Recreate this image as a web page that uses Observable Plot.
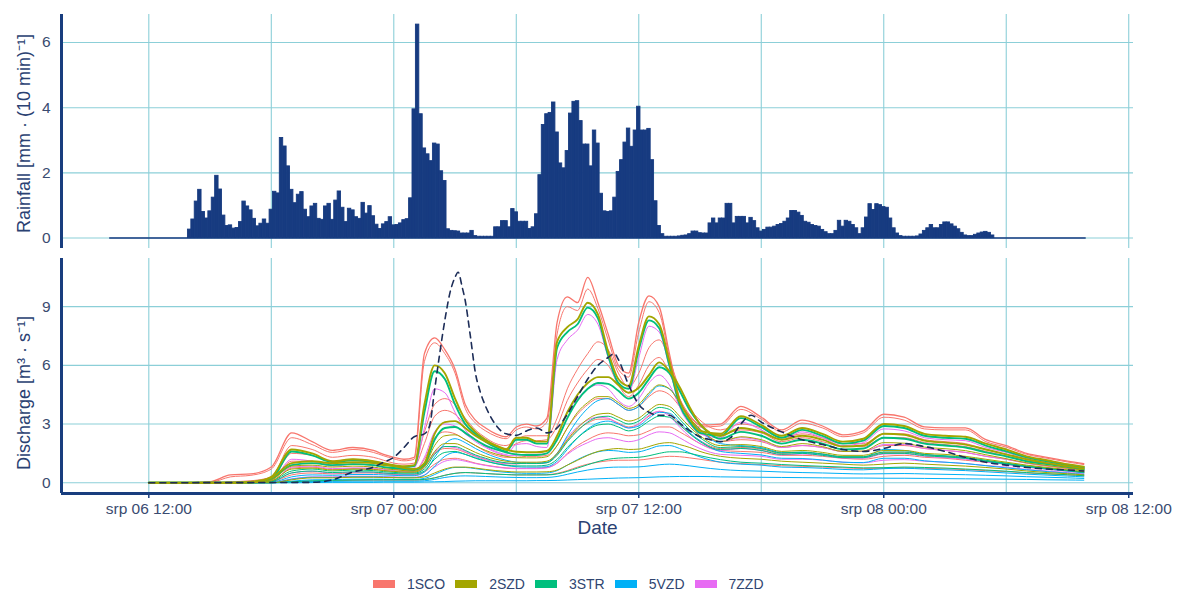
<!DOCTYPE html>
<html><head><meta charset="utf-8">
<script src="https://cdn.jsdelivr.net/npm/d3@7"></script>
<script src="https://cdn.jsdelivr.net/npm/@observablehq/plot@0.6"></script>
<style>
html,body{margin:0;padding:0;background:#fff;overflow:hidden;}
#chart svg{display:block;}
#legend{display:flex;align-items:center;padding-left:373px;padding-top:32px;height:14px;line-height:14px;font-family:"Liberation Sans",Arial,sans-serif;font-size:14px;color:#2f4570;}
.sw{width:22px;height:8px;margin-right:12px;}
.lb{margin-right:10px;}
</style></head><body>
<div id="chart"></div>
<div id="legend"></div>
<script>
// ---------- Rainfall: 10-min totals, first bar centred at srp 06 10:10 ----------
const rainfall = [
0,0,0,0,0,0,0,0,0,0, 0,0,0,0,0,0,0,0,0,0, 0,0,0,
0.26,0.57,1.12,1.48,0.8,0.6,0.82,
1.24,1.91,1.49,0.69,0.37,0.39,0.29,0.31,0.49,1.12,
0.97,0.85,0.59,0.36,0.44,0.57,0.44,0.87,1.42,1.37,
3.07,2.81,2.2,1.48,1.07,1.33,1.41,0.87,0.64,0.97,
1.05,0.59,0.56,0.97,1.05,0.56,1.15,1.43,0.93,0.49,
0.9,0.85,0.64,0.59,1.08,0.75,0.98,0.67,0.41,0.28,
0.42,0.49,0.64,0.39,0.4,0.45,0.55,0.58,1.22,3.95,
6.55,3.8,2.75,2.57,2.36,2.9,2.87,2.05,1.75,0.27,
0.22,0.21,0.2,0.14,0.14,0.14,0.22,0.06,0.04,0.04,
0.04,0.04,0.04,0.33,0.33,0.52,0.52,0.33,0.89,0.79,
0.5,0.5,0.5,0.28,0.33,0.73,1.93,3.47,3.8,3.84,
4.16,3.24,2.29,2.14,2.67,3.82,4.18,4.2,3.59,2.87,
2.87,2.2,3.3,2.9,1.36,0.82,0.8,0.82,1.24,2.03,
2.39,2.93,3.36,2.8,3.3,4.03,3.3,3.3,3.35,2.39,
1.13,0.37,0.12,0.04,0.04,0.04,0.04,0.05,0.07,0.08,
0.12,0.2,0.2,0.15,0.14,0.14,0.45,0.6,0.45,0.6,
0.6,1.05,1.05,0.45,0.65,0.65,0.65,0.45,0.62,0.52,
0.3,0.2,0.25,0.32,0.32,0.35,0.4,0.43,0.5,0.6,
0.83,0.83,0.78,0.68,0.5,0.47,0.4,0.37,0.35,0.25,
0.18,0.12,0.12,0.22,0.53,0.35,0.53,0.5,0.4,0.3,
0.12,0.3,0.63,1.04,0.86,1.04,1.01,0.95,0.93,0.6,
0.3,0.14,0.06,0.04,0.04,0.04,0.04,0.05,0.11,0.22,
0.3,0.4,0.3,0.3,0.4,0.48,0.48,0.42,0.35,0.27,
0.16,0.08,0.06,0.06,0.1,0.14,0.17,0.19,0.16,0.08,
0,0,0,0,0,0,0,0,0,0, 0,0,0,0,0,0,0,0,0,0, 0,0,0,0,0,0,0
];

// ---------- Discharge: hours after srp 06 12:00 ----------
const dischargeHours = [0,2,3,4,5,6,7,8,9,10,
 11,11.5,12,12.5,13,13.5,14,14.5,15,15.5,
 16,16.5,17,17.5,18,18.5,19,19.5,20,20.5,
 21,21.5,22,22.5,23,23.5,24,24.5,25,25.5,
 26,26.5,27,28,29,30,31,32,33,34,
 35,36,37,38,39,40,41,42,43,44,
 45,45.8];

const sco1 = [0,0,0.05,0.4,0.45,0.8,2.55,2.1,1.65,1.8,
 1.65,1.45,1.3,1.2,1.3,6.6,7.4,6.8,5.8,4.0,
 3.2,2.8,2.5,2.35,2.85,3.0,2.9,3.3,8.2,9.5,
 9.2,10.5,9.2,7.6,6.0,5.6,8.2,9.55,9.0,6.6,
 4.3,3.4,2.95,3.0,3.9,3.35,2.7,3.2,2.9,2.45,
 2.65,3.5,3.35,2.85,2.8,2.8,2.2,1.9,1.5,1.3,
 1.1,0.97];
const sco6 = [0,0,0.02,0.3,0.38,0.7,2.3,1.95,1.55,1.7,
 1.55,1.38,1.22,1.12,1.2,6.2,7.15,6.6,5.6,3.8,
 3.05,2.65,2.38,2.25,2.7,2.85,2.75,3.1,7.6,9.0,
 8.8,9.9,8.9,7.3,5.8,5.4,7.7,9.25,8.7,6.4,
 4.2,3.3,2.85,2.9,3.75,3.25,2.6,3.05,2.8,2.35,
 2.55,3.35,3.2,2.75,2.7,2.7,2.1,1.82,1.45,1.25,
 1.06,0.93];
const sco2 = [0,0,0,0.05,0.1,0.3,1.9,1.7,1.3,1.4,
 1.3,1.15,1.0,0.95,1.0,2.6,4.0,4.3,4.0,3.3,
 2.7,2.3,2.0,1.9,2.2,2.4,2.4,2.4,3.3,4.8,
 5.8,6.6,7.2,6.8,5.6,4.9,5.6,6.9,7.3,6.3,
 4.8,3.8,3.2,2.7,3.0,2.8,2.3,2.5,2.3,2.0,
 2.0,2.5,2.5,2.2,2.1,2.0,1.7,1.45,1.2,1.05,
 0.9,0.8];
const sco7 = [0,0,0,0,0.05,0.2,1.5,1.4,1.1,1.2,
 1.1,1.0,0.88,0.82,0.85,2.0,3.4,3.7,3.5,2.95,
 2.45,2.1,1.85,1.75,2.0,2.15,2.15,2.2,2.9,4.2,
 5.1,5.8,6.3,6.0,5.0,4.4,5.0,6.0,6.4,5.6,
 4.3,3.45,2.9,2.45,2.7,2.55,2.1,2.3,2.1,1.85,
 1.85,2.3,2.3,2.05,1.95,1.85,1.6,1.37,1.13,0.98,
 0.85,0.75];
const sco3 = [0,0,0,0,0.05,0.15,1.1,1.1,0.9,0.95,
 0.9,0.8,0.7,0.65,0.65,1.2,2.3,2.6,2.5,2.2,
 1.9,1.6,1.4,1.3,1.3,1.35,1.35,1.4,1.9,2.8,
 3.5,4.0,4.3,4.3,4.0,3.7,3.9,4.4,4.7,4.5,
 3.9,3.2,2.7,2.1,2.2,2.1,1.8,1.9,1.8,1.6,
 1.6,1.9,1.9,1.75,1.65,1.55,1.35,1.2,1.0,0.85,
 0.72,0.62];
const sco8 = [0,0,0,0,0,0.08,0.75,0.8,0.68,0.72,
 0.7,0.63,0.57,0.54,0.53,0.85,1.5,1.75,1.72,1.55,
 1.35,1.18,1.05,0.97,0.97,1.0,1.0,1.03,1.45,2.15,
 2.7,3.05,3.25,3.25,3.05,2.85,3.0,3.4,3.65,3.5,
 3.0,2.5,2.15,1.75,1.8,1.72,1.5,1.55,1.47,1.33,
 1.32,1.55,1.56,1.43,1.35,1.27,1.12,0.99,0.84,0.72,
 0.62,0.53];
const sco4 = [0,0,0,0,0,0.05,0.4,0.5,0.45,0.5,
 0.5,0.45,0.42,0.4,0.4,0.55,0.95,1.2,1.25,1.15,
 1.0,0.9,0.82,0.76,0.74,0.74,0.75,0.78,1.0,1.5,
 1.9,2.2,2.45,2.55,2.5,2.4,2.45,2.65,2.85,2.85,
 2.6,2.3,2.0,1.65,1.6,1.55,1.4,1.4,1.35,1.25,
 1.2,1.35,1.4,1.3,1.25,1.15,1.05,0.95,0.8,0.7,
 0.6,0.52];
const sco5 = [0,0,0,0,0,0,0.05,0.08,0.1,0.12,
 0.13,0.13,0.13,0.13,0.13,0.16,0.25,0.38,0.48,0.52,
 0.5,0.47,0.44,0.42,0.4,0.4,0.4,0.41,0.48,0.62,
 0.8,0.95,1.05,1.12,1.15,1.15,1.16,1.22,1.3,1.35,
 1.33,1.27,1.2,1.05,0.98,0.93,0.87,0.84,0.8,0.76,
 0.73,0.74,0.76,0.74,0.71,0.67,0.62,0.57,0.5,0.45,
 0.4,0.36];
const zzd1 = [0,0,0,0,0,0.1,1.2,1.1,0.85,0.95,
 0.9,0.8,0.75,0.7,0.75,2.8,4.8,4.6,3.6,2.7,
 2.2,1.85,1.6,1.45,1.95,2.0,1.85,1.8,6.3,7.3,
 7.8,8.6,8.1,6.4,5.0,4.6,6.4,8.0,7.7,5.9,
 3.9,3.0,2.5,2.3,3.1,2.7,2.2,2.6,2.3,1.9,
 2.05,2.75,2.65,2.3,2.2,2.15,1.8,1.55,1.25,1.05,
 0.88,0.75];
const zzd2 = [0,0,0,0,0,0.05,0.8,0.85,0.72,0.76,
 0.74,0.68,0.62,0.58,0.58,1.3,2.6,3.0,2.9,2.5,
 2.1,1.8,1.55,1.4,1.4,1.45,1.45,1.5,2.4,3.6,
 4.3,4.8,5.0,4.8,4.2,3.9,4.3,5.1,5.5,5.0,
 3.9,3.1,2.6,2.1,2.3,2.15,1.8,1.9,1.8,1.6,
 1.6,1.95,1.95,1.75,1.65,1.55,1.35,1.2,1.0,0.86,
 0.74,0.64];
const zzd4 = [0,0,0,0,0,0.03,0.5,0.58,0.5,0.54,
 0.53,0.49,0.45,0.42,0.42,0.8,1.55,1.85,1.8,1.6,
 1.38,1.2,1.07,0.98,0.97,1.0,1.0,1.03,1.5,2.3,
 2.85,3.2,3.35,3.3,3.0,2.8,3.0,3.45,3.65,3.4,
 2.85,2.35,2.0,1.65,1.75,1.65,1.42,1.47,1.4,1.26,
 1.25,1.47,1.48,1.35,1.28,1.2,1.06,0.94,0.8,0.69,
 0.59,0.51];
const zzd3 = [0,0,0,0,0,0,0.2,0.3,0.3,0.33,
 0.33,0.31,0.3,0.28,0.28,0.4,0.8,1.1,1.18,1.1,
 0.98,0.88,0.8,0.74,0.72,0.72,0.72,0.76,1.0,1.45,
 1.8,2.05,2.25,2.3,2.2,2.1,2.2,2.45,2.6,2.55,
 2.3,2.0,1.75,1.45,1.4,1.35,1.2,1.2,1.15,1.05,
 1.02,1.15,1.18,1.1,1.05,0.98,0.88,0.8,0.68,0.6,
 0.52,0.45];
const vzd1 = [0,0,0,0,0,0.02,0.3,0.4,0.38,0.42,
 0.42,0.4,0.38,0.36,0.36,0.55,1.3,2.0,2.25,2.05,
 1.75,1.5,1.3,1.15,1.05,1.02,1.0,1.05,1.5,2.4,
 3.2,3.8,4.2,4.3,4.0,3.7,3.9,4.5,4.95,4.8,
 4.1,3.3,2.7,2.0,1.9,1.8,1.55,1.55,1.45,1.3,
 1.3,1.7,1.65,1.45,1.35,1.25,1.1,0.95,0.82,0.7,
 0.6,0.5];
const vzd4 = [0,0,0,0,0,0,0.18,0.28,0.27,0.3,
 0.3,0.29,0.27,0.26,0.26,0.38,0.85,1.35,1.55,1.45,
 1.28,1.12,0.98,0.88,0.82,0.8,0.8,0.82,1.1,1.7,
 2.3,2.75,3.05,3.15,3.0,2.8,2.9,3.3,3.6,3.55,
 3.1,2.55,2.15,1.6,1.5,1.42,1.25,1.24,1.16,1.05,
 1.03,1.25,1.25,1.12,1.05,0.98,0.87,0.76,0.66,0.57,
 0.49,0.42];
const vzd2 = [0,0,0,0,0,0,0.08,0.15,0.16,0.18,
 0.18,0.18,0.17,0.17,0.17,0.22,0.42,0.65,0.78,0.78,
 0.72,0.65,0.58,0.53,0.5,0.48,0.48,0.5,0.62,0.9,
 1.18,1.42,1.58,1.65,1.62,1.55,1.58,1.72,1.88,1.9,
 1.75,1.52,1.32,1.05,0.95,0.9,0.8,0.78,0.74,0.68,
 0.66,0.72,0.74,0.7,0.66,0.62,0.56,0.5,0.44,0.39,
 0.34,0.3];
const vzd5 = [0,0,0,0,0,0,0.03,0.06,0.07,0.08,
 0.08,0.08,0.08,0.08,0.08,0.1,0.17,0.27,0.33,0.35,
 0.34,0.32,0.3,0.28,0.27,0.26,0.26,0.27,0.32,0.43,
 0.55,0.65,0.73,0.78,0.8,0.8,0.81,0.86,0.92,0.95,
 0.92,0.86,0.79,0.68,0.62,0.59,0.55,0.52,0.5,0.47,
 0.45,0.46,0.47,0.45,0.43,0.41,0.38,0.35,0.31,0.28,
 0.25,0.22];
const vzd3 = [0,0,0,0,0,0,0,0.01,0.02,0.02,
 0.02,0.03,0.03,0.03,0.03,0.04,0.05,0.06,0.08,0.09,
 0.1,0.1,0.1,0.1,0.1,0.1,0.11,0.11,0.12,0.14,
 0.16,0.18,0.2,0.22,0.24,0.25,0.26,0.28,0.3,0.31,
 0.32,0.32,0.32,0.3,0.29,0.28,0.27,0.26,0.25,0.24,
 0.24,0.23,0.23,0.22,0.21,0.2,0.19,0.18,0.17,0.15,
 0.14,0.13];
const str1 = [0,0,0,0,0.02,0.2,1.6,1.4,1.05,1.15,
 1.05,0.95,0.85,0.8,0.85,3.6,5.7,5.3,4.0,3.0,
 2.5,2.1,1.8,1.6,2.2,2.2,2.0,2.0,6.9,7.7,
 8.1,8.95,8.4,6.5,5.1,4.8,6.8,8.3,7.9,6.0,
 4.0,3.1,2.55,2.4,3.3,2.85,2.3,2.7,2.4,2.0,
 2.15,2.9,2.8,2.4,2.3,2.25,1.9,1.6,1.3,1.1,
 0.9,0.78];
const str2 = [0,0,0,0,0.03,0.2,0.9,1.0,0.9,0.95,
 0.9,0.8,0.75,0.7,0.65,0.9,2.2,2.8,2.85,2.55,
 2.2,1.9,1.7,1.55,1.45,1.42,1.42,1.5,2.2,3.3,
 4.2,4.8,5.1,5.05,4.7,4.3,4.6,5.3,5.9,5.6,
 4.7,3.7,3.0,2.25,2.6,2.4,2.0,2.2,2.0,1.7,
 1.75,2.3,2.25,2.0,1.9,1.8,1.55,1.35,1.1,0.95,
 0.8,0.68];
const str5 = [0,0,0,0,0,0.08,0.6,0.7,0.6,0.65,
 0.62,0.57,0.53,0.5,0.5,0.7,1.45,1.85,1.85,1.65,
 1.42,1.25,1.1,1.02,0.98,0.98,0.98,1.02,1.4,2.1,
 2.65,3.1,3.35,3.4,3.2,3.0,3.15,3.55,3.85,3.75,
 3.25,2.7,2.3,1.8,1.85,1.75,1.52,1.57,1.47,1.33,
 1.33,1.57,1.57,1.44,1.38,1.3,1.15,1.0,0.86,0.75,
 0.64,0.55];
const str3 = [0,0,0,0,0,0.05,0.5,0.6,0.52,0.56,
 0.55,0.5,0.47,0.45,0.45,0.6,1.2,1.55,1.6,1.45,
 1.25,1.1,0.98,0.9,0.86,0.86,0.86,0.9,1.2,1.8,
 2.3,2.7,2.95,3.0,2.85,2.65,2.8,3.15,3.4,3.35,
 2.95,2.5,2.1,1.7,1.75,1.65,1.45,1.5,1.4,1.28,
 1.28,1.5,1.5,1.38,1.32,1.25,1.1,0.97,0.83,0.72,
 0.62,0.53];
const str4 = [0,0,0,0,0,0,0.05,0.1,0.12,0.14,
 0.15,0.15,0.15,0.15,0.15,0.17,0.25,0.38,0.48,0.52,
 0.5,0.47,0.44,0.42,0.4,0.4,0.4,0.4,0.45,0.58,
 0.75,0.92,1.08,1.2,1.26,1.28,1.3,1.38,1.5,1.58,
 1.58,1.5,1.38,1.18,1.05,1.0,0.93,0.88,0.84,0.8,
 0.76,0.77,0.8,0.78,0.75,0.7,0.65,0.59,0.52,0.46,
 0.41,0.36];
const szd1 = [0,0,0,0,0.02,0.3,1.7,1.5,1.1,1.2,
 1.1,1.0,0.9,0.85,0.9,4.0,6.0,5.6,4.3,3.2,
 2.6,2.2,1.9,1.7,2.3,2.3,2.1,2.1,7.2,7.95,
 8.35,9.2,8.6,6.7,5.3,4.95,7.0,8.5,8.1,6.2,
 4.2,3.25,2.65,2.5,3.4,2.95,2.4,2.8,2.5,2.1,
 2.25,3.0,2.9,2.5,2.4,2.35,2.0,1.7,1.35,1.15,
 0.95,0.82];
const szd2 = [0,0,0,0,0.05,0.25,1.0,1.1,1.0,1.05,
 1.0,0.9,0.85,0.75,0.7,1.0,2.5,3.1,3.15,2.8,
 2.4,2.1,1.9,1.7,1.58,1.56,1.56,1.62,2.4,3.6,
 4.5,5.1,5.4,5.4,5.0,4.6,4.85,5.5,6.15,5.7,
 4.9,3.85,3.0,2.4,2.8,2.6,2.2,2.4,2.2,1.85,
 1.9,2.5,2.45,2.15,2.05,1.95,1.7,1.45,1.2,1.0,
 0.85,0.72];
const szd5 = [0,0,0,0,0.02,0.15,0.85,0.9,0.8,0.85,
 0.8,0.72,0.67,0.62,0.6,0.85,1.9,2.4,2.45,2.2,
 1.9,1.65,1.47,1.35,1.28,1.27,1.27,1.33,1.9,2.8,
 3.6,4.1,4.4,4.4,4.1,3.8,4.0,4.6,5.0,4.8,
 4.1,3.3,2.75,2.1,2.35,2.2,1.85,2.0,1.85,1.6,
 1.62,2.05,2.02,1.82,1.74,1.64,1.43,1.23,1.02,0.88,
 0.75,0.64];
const szd3 = [0,0,0,0,0,0.1,0.7,0.75,0.65,0.7,
 0.68,0.62,0.58,0.55,0.55,0.8,1.6,2.0,2.0,1.8,
 1.55,1.35,1.2,1.1,1.05,1.05,1.05,1.1,1.5,2.2,
 2.8,3.25,3.5,3.55,3.35,3.15,3.3,3.7,4.0,3.9,
 3.4,2.85,2.4,1.9,1.95,1.85,1.6,1.65,1.55,1.4,
 1.4,1.65,1.65,1.5,1.45,1.35,1.2,1.05,0.9,0.78,
 0.66,0.57];
const szd4 = [0,0,0,0,0,0,0.15,0.25,0.25,0.28,
 0.28,0.27,0.26,0.25,0.25,0.3,0.5,0.7,0.8,0.8,
 0.75,0.68,0.62,0.58,0.55,0.55,0.55,0.56,0.65,0.9,
 1.15,1.4,1.6,1.7,1.75,1.7,1.72,1.85,2.0,2.05,
 1.95,1.8,1.6,1.35,1.25,1.2,1.1,1.05,1.0,0.95,
 0.9,0.95,1.0,0.95,0.9,0.85,0.78,0.7,0.6,0.52,
 0.46,0.4];

// observed discharge (dashed)
const observedHours = [0,8,9,10,11,11.5,12,12.5,13,13.5,
 13.75,14,14.25,14.5,14.75,15,15.15,15.35,15.5,15.75,
 16,16.25,16.5,17,17.5,18,18.5,19,19.5,20,
 20.5,21,21.5,22,22.5,22.8,23,23.5,24,24.5,
 25,25.5,26,26.5,27,27.5,28,28.5,29,29.5,
 30,31,32,33,34,35,36,37,38,39,
 40,41,42,43,44,45,45.8];
const observedValues = [0,0.02,0.15,0.55,0.8,1.05,1.3,1.8,2.35,2.5,
 2.9,4.75,6.6,8.3,9.7,10.5,10.76,10.0,9.3,7.5,
 5.6,4.6,3.9,2.95,2.5,2.42,2.65,2.8,2.55,2.8,
 3.5,4.4,5.3,6.0,6.4,6.6,6.3,5.0,4.0,3.6,
 3.45,3.45,3.05,2.65,2.35,2.2,2.1,2.3,3.0,3.45,
 3.1,2.6,2.2,1.95,1.7,1.6,1.75,2.0,1.85,1.6,
 1.3,1.05,0.9,0.78,0.7,0.65,0.6];

// groups & colours
const groups = ["1SCO","2SZD","3STR","5VZD","7ZZD"];
const groupColors = ["#F8766D","#A3A500","#00BF7D","#00B0F6","#E76BF3"];

// axis ticks
const rainTicks = [0,2,4,6];
const dischargeTicks = [0,3,6,9];
const monthLabel = "srp";

// ---------- build ----------
const seriesList = [
 {id:"sco1",group:"1SCO",values:sco1},{id:"sco6",group:"1SCO",values:sco6},{id:"sco2",group:"1SCO",values:sco2},
 {id:"sco7",group:"1SCO",values:sco7},{id:"sco3",group:"1SCO",values:sco3},{id:"sco8",group:"1SCO",values:sco8},
 {id:"sco4",group:"1SCO",values:sco4},{id:"sco5",group:"1SCO",values:sco5},
 {id:"zzd1",group:"7ZZD",values:zzd1},{id:"zzd2",group:"7ZZD",values:zzd2},{id:"zzd4",group:"7ZZD",values:zzd4},{id:"zzd3",group:"7ZZD",values:zzd3},
 {id:"vzd1",group:"5VZD",values:vzd1},{id:"vzd4",group:"5VZD",values:vzd4},{id:"vzd2",group:"5VZD",values:vzd2},{id:"vzd5",group:"5VZD",values:vzd5},{id:"vzd3",group:"5VZD",values:vzd3},
 {id:"str1",group:"3STR",values:str1},{id:"str2",group:"3STR",values:str2},{id:"str5",group:"3STR",values:str5},{id:"str3",group:"3STR",values:str3},{id:"str4",group:"3STR",values:str4},
 {id:"szd1",group:"2SZD",values:szd1},{id:"szd2",group:"2SZD",values:szd2},{id:"szd5",group:"2SZD",values:szd5},{id:"szd3",group:"2SZD",values:szd3},{id:"szd4",group:"2SZD",values:szd4}
];
seriesList.forEach(s => { if (s.values.length !== dischargeHours.length) throw new Error(s.id + " length " + s.values.length); });
if (observedValues.length !== observedHours.length) throw new Error("observed length " + observedValues.length);

const base = Date.UTC(2021, 7, 6, 12, 0);
const H = 3600e3;
const toDate = h => new Date(base + h * H);
const xStart = new Date(Date.UTC(2021, 7, 6, 7, 43, 24));
const xEnd = new Date(Date.UTC(2021, 7, 8, 12, 14, 0));
const rainStart = Date.UTC(2021, 7, 6, 10, 10);
const rainData = rainfall.map((v, i) => ({x1: new Date(rainStart + i * 600e3 - 300e3), x2: new Date(rainStart + i * 600e3 + 300e3), v}));

const gridTimes = d3.utcHour.every(6).range(xStart, xEnd);
const labelTimes = d3.utcHour.every(12).range(xStart, xEnd);
const fmt = d3.utcFormat("%d %H:%M");

const gridColor = "#8ccfd8";
const axisColor = "#183d7e";
const titleColor = "#2a4172";
const tickColor = "#3a4b70";
const barColor = "#173b80";
const font = "'Liberation Sans', Arial, Helvetica, sans-serif";
const style = {fontFamily: font, fontSize: "15.5px", color: tickColor, background: "transparent", overflow: "visible"};

const rainY = [-0.32, 6.86];
const qY = [-0.55, 11.46];

const topPlot = Plot.plot({
  width: 1177, height: 250,
  marginLeft: 61, marginRight: 44, marginTop: 14, marginBottom: 2,
  style,
  x: {type: "utc", domain: [xStart, xEnd], axis: null},
  y: {domain: rainY},
  marks: [
    Plot.gridX(gridTimes, {stroke: gridColor, strokeOpacity: 1, strokeWidth: 1.1}),
    Plot.gridY(rainTicks, {stroke: gridColor, strokeOpacity: 1, strokeWidth: 1.1}),
    Plot.ruleY([0], {x1: rainData[0].x1, x2: rainData[rainData.length - 1].x2, stroke: barColor, strokeWidth: 1.4}),
    Plot.rectY(rainData, {x1: "x1", x2: "x2", y: "v", fill: barColor, stroke: barColor, strokeWidth: 0.9}),
    Plot.axisY(rainTicks, {tickSize: 0, tickPadding: 11, label: null, fill: tickColor, fontSize: 15.5}),
    Plot.ruleX([xStart], {stroke: axisColor, strokeWidth: 3}),
    Plot.text(["Rainfall [mm · (10 min)⁻¹]"], {frameAnchor: "left", textAnchor: "middle", rotate: -90, dx: -37, dy: 2, fontSize: 18, fill: titleColor})
  ]
});

const lineMarks = seriesList.map(s => Plot.line(
  s.values.map((v, i) => ({t: toDate(dischargeHours[i]), v, group: s.group})),
  {x: "t", y: "v", stroke: "group", curve: "monotone-x",
   strokeWidth: ["szd1","szd2","str1","str2"].includes(s.id) ? 1.9 : (s.id === "sco1" ? 1.3 : 1.0)}
));
const obsData = observedValues.map((v, i) => ({t: toDate(observedHours[i]), v}));

const bottomPlot = Plot.plot({
  width: 1177, height: 295,
  marginLeft: 61, marginRight: 44, marginTop: 8, marginBottom: 52,
  style,
  x: {type: "utc", domain: [xStart, xEnd]},
  y: {domain: qY},
  color: {domain: groups, range: groupColors},
  marks: [
    Plot.gridX(gridTimes, {stroke: gridColor, strokeOpacity: 1, strokeWidth: 1.1}),
    Plot.gridY(dischargeTicks, {stroke: gridColor, strokeOpacity: 1, strokeWidth: 1.1}),
    ...lineMarks,
    Plot.line(obsData, {x: "t", y: "v", stroke: "#1d2d58", strokeWidth: 1.6, strokeDasharray: "6,5", curve: "monotone-x"}),
    Plot.axisY(dischargeTicks, {tickSize: 0, tickPadding: 11, label: null, fill: tickColor, fontSize: 15.5}),
    Plot.axisX(labelTimes, {tickSize: 5, tickPadding: 4, label: null, stroke: axisColor, strokeWidth: 1.5, fill: tickColor, fontSize: 15.5,
      tickFormat: d => monthLabel + " " + fmt(d)}),
    Plot.ruleX([xStart], {stroke: axisColor, strokeWidth: 3}),
    Plot.ruleY([qY[0]], {stroke: axisColor, strokeWidth: 3}),
    Plot.text(["Discharge [m³ · s⁻¹]"], {frameAnchor: "left", textAnchor: "middle", rotate: -90, dx: -37, dy: 17, fontSize: 18, fill: titleColor}),
    Plot.text(["Date"], {frameAnchor: "bottom", dy: 40, fontSize: 19, fill: titleColor})
  ]
});

const chart = document.getElementById("chart");
chart.appendChild(topPlot);
chart.appendChild(bottomPlot);

const legend = document.getElementById("legend");
groups.forEach((g, i) => {
  const sw = document.createElement("div"); sw.className = "sw"; sw.style.background = groupColors[i];
  const lb = document.createElement("span"); lb.className = "lb"; lb.textContent = g;
  legend.appendChild(sw); legend.appendChild(lb);
});
</script></body></html>
